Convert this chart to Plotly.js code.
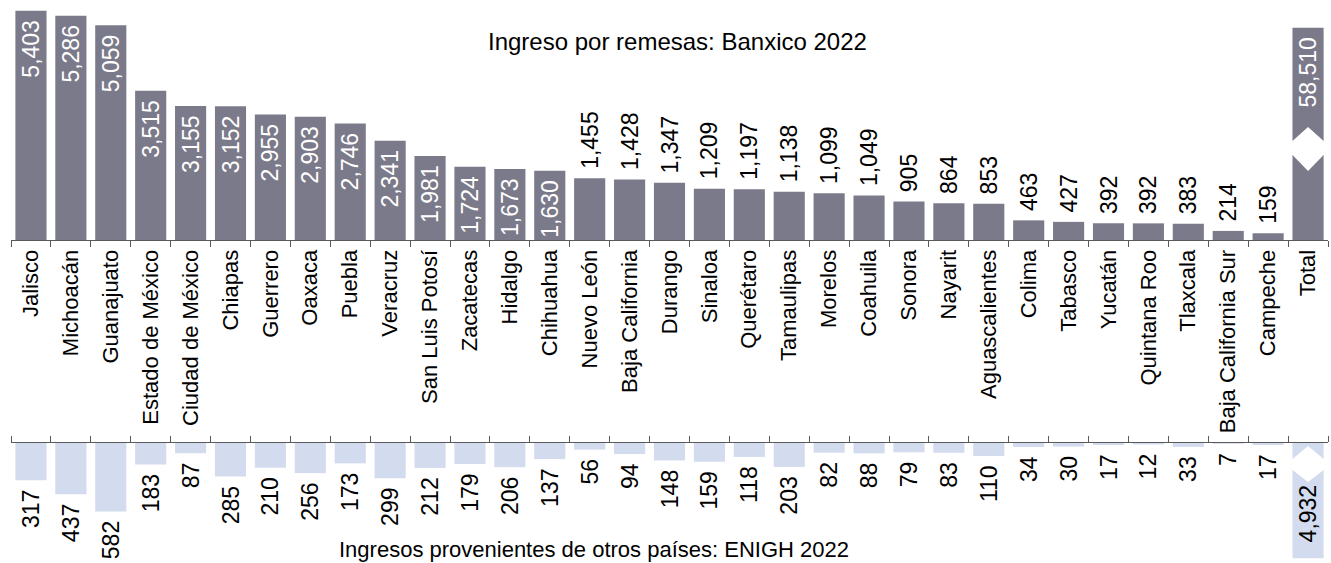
<!DOCTYPE html>
<html><head><meta charset="utf-8">
<script src="https://cdn.plot.ly/plotly-3.0.1.min.js"></script>
<style>html,body{margin:0;padding:0;background:#fff}#chart{width:1331px;height:563px}</style>
</head><body><div id="chart"></div>
<script>
const categories = ["Jalisco","Michoacán","Guanajuato","Estado de México","Ciudad de México","Chiapas","Guerrero","Oaxaca","Puebla","Veracruz","San Luis Potosí","Zacatecas","Hidalgo","Chihuahua","Nuevo León","Baja California","Durango","Sinaloa","Querétaro","Tamaulipas","Morelos","Coahuila","Sonora","Nayarit","Aguascalientes","Colima","Tabasco","Yucatán","Quintana Roo","Tlaxcala","Baja California Sur","Campeche","Total"];
const banxico = [5403,5286,5059,3515,3155,3152,2955,2903,2746,2341,1981,1724,1673,1630,1455,1428,1347,1209,1197,1138,1099,1049,905,864,853,463,427,392,392,383,214,159,58510];
const enigh = [317,437,582,183,87,285,210,256,173,299,212,179,206,137,56,94,148,159,118,203,82,88,79,83,110,34,30,17,12,33,7,17,4932];
const topTitle = "Ingreso por remesas: Banxico 2022";
const bottomTitle = "Ingresos provenientes de otros países: ENIGH 2022";

// display height of the broken "Total" bars (axis break)
const topCap = 5000, bottomCap = 980;
const insideMin = 1600;
const fontFam = "'Liberation Sans', Arial, sans-serif";
const topColor = '#7b7a8a', bottomColor = '#d3dbee', axisColor = '#595959';
const SP = '\u00A0';

const fmt = v => v.toLocaleString('en-US');
const totalIdx = categories.indexOf('Total');

const topPos = banxico.map((v,i)=> (v>=insideMin || i===totalIdx) ? 'inside' : 'outside');
const botPos = enigh.map((v,i)=> i===totalIdx ? 'inside' : 'outside');

const topTrace = {
  type:'bar', x:categories, y:banxico.map((v,i)=> i===totalIdx ? topCap : v),
  xaxis:'x', yaxis:'y',
  marker:{color:topColor, line:{width:0}},
  text:banxico.map((v,i)=> topPos[i]==='inside' ? fmt(v)+SP : SP+fmt(v)),
  textposition:topPos,
  insidetextanchor:'end', textangle:-90,
  insidetextfont:{color:'#ffffff', size:23, family:fontFam},
  outsidetextfont:{color:'#000000', size:23, family:fontFam},
  constraintext:'none', cliponaxis:false, hoverinfo:'skip'
};
const bottomTrace = {
  type:'bar', x:categories, y:enigh.map((v,i)=> i===totalIdx ? bottomCap : v),
  xaxis:'x2', yaxis:'y2',
  marker:{color:bottomColor, line:{width:0}},
  text:enigh.map((v,i)=> botPos[i]==='inside' ? SP+SP+fmt(v) : fmt(v)+SP),
  textposition:botPos,
  insidetextanchor:'end', textangle:-90,
  insidetextfont:{color:'#000000', size:23, family:fontFam},
  outsidetextfont:{color:'#000000', size:23, family:fontFam},
  constraintext:'none', cliponaxis:false, hoverinfo:'skip'
};

function breakPath(i, up1, up2, dn1, dn2){
  const h = 0.39, e = 0.46;
  return `M ${i-e},${up1} L ${i-h},${up1} L ${i},${up2} L ${i+h},${up1} L ${i+e},${up1} L ${i+e},${dn1} L ${i+h},${dn1} L ${i},${dn2} L ${i-h},${dn1} L ${i-e},${dn1} Z`;
}

const axisCommon = {
  type:'category', range:[-0.5, categories.length-0.5],
  showline:true, linecolor:axisColor, linewidth:1,
  ticks:'outside', ticklen:6, tickcolor:axisColor, tickwidth:1,
  tickson:'boundaries', showgrid:false, zeroline:false, fixedrange:true
};

const layout = {
  width:1331, height:563,
  margin:{l:11, r:3, t:0, b:0},
  paper_bgcolor:'#ffffff', plot_bgcolor:'rgba(0,0,0,0)',
  font:{family:fontFam, color:'#000000'},
  bargap:0.22, showlegend:false,
  xaxis:Object.assign({}, axisCommon, {anchor:'y', tickangle:-90, tickfont:{size:22, family:fontFam, color:'#000'}}),
  xaxis2:Object.assign({}, axisCommon, {anchor:'y2', side:'top', showticklabels:false}),
  yaxis:{domain:[0.5737,1], range:[0,5655], visible:false, fixedrange:true},
  yaxis2:{domain:[0,0.2131], range:[1021,0], visible:false, fixedrange:true},
  uniformtext:{mode:'show', minsize:23},
  annotations:[
    {text:topTitle, xref:'paper', yref:'paper', x:0.5057, y:0.9254, xanchor:'center', yanchor:'middle', showarrow:false, font:{size:24, family:fontFam, color:'#000'}},
    {text:bottomTitle, xref:'paper', yref:'paper', x:0.443, y:0.0231, xanchor:'center', yanchor:'middle', showarrow:false, font:{size:22, family:fontFam, color:'#000'}}
  ],
  shapes:[
    {type:'path', xref:'x', yref:'y', ysizemode:'pixel', yanchor:topCap*0.434, path:breakPath(totalIdx, 7, 21, -7, -23), fillcolor:'#ffffff', line:{width:0}, layer:'above'},
    {type:'path', xref:'x2', yref:'y2', ysizemode:'pixel', yanchor:bottomCap*0.183, path:breakPath(totalIdx, 5, 18, -6, -18), fillcolor:'#ffffff', line:{width:0}, layer:'above'}
  ]
};

Plotly.newPlot('chart', [topTrace, bottomTrace], layout, {displayModeBar:false, staticPlot:true});
</script>
</body></html>
